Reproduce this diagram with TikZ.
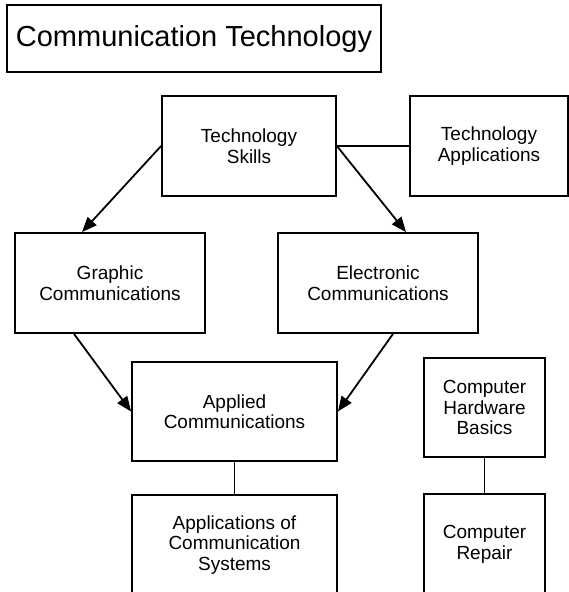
\documentclass[tikz,border=0pt]{standalone}
\usepackage{fontspec}
\setmainfont{Liberation Sans}
\usetikzlibrary{arrows.meta}

\begin{document}
\begin{tikzpicture}[x=1pt,y=-1pt,-,>={Triangle[length=15pt,width=12pt]},line width=1.8pt,
    box node/.style={draw,rectangle,inner sep=0pt,align=center,font=\fontsize{19}{20.5}\selectfont},
    title node/.style={draw,rectangle,inner sep=0pt,font=\fontsize{29}{32}\selectfont}]
            \useasboundingbox (0,0) rectangle (569,592);

            \node[title node] (0) [minimum width=374pt, minimum height=67pt] at (194,38.5) {Communication Technology};

            \node[box node] (1) [minimum width=174pt, minimum height=100pt] at (249,146) {Technology\\Skills};
            \node[box node] (2) [minimum width=158pt, minimum height=100pt] at (489,146) {Technology\\Applications};

            \node[box node] (3) [minimum width=190pt, minimum height=100pt] at (110,283) {Graphic\\Communications};
            \node[box node] (4) [minimum width=200pt, minimum height=100pt] at (378,283) {Electronic\\Communications};

            \node[box node] (5) [minimum width=205pt, minimum height=99pt] at (234.5,411.5) {Applied\\Communications};
            \node[box node] (6) [minimum width=121pt, minimum height=99pt] at (484.5,407.5) {Computer\\Hardware\\Basics};

            \node[box node] (7) [minimum width=205pt, minimum height=100pt] at (234.5,545) {Applications of\\Communication\\Systems};
            \node[box node] (8) [minimum width=121pt, minimum height=101pt] at (484.5,544.5) {Computer\\Repair};

            \path
                (1.west) edge[->] ([xshift=-28pt]3.north)
                (1.east) edge[->] ([xshift=28pt]4.north)
                (1.east) edge (2.west)

                ([xshift=-36pt]3.south) edge[->] (5.west)
                ([xshift=15pt]4.south) edge[->] (5.east)

                (5.south) edge (7.north)
                (6.south) edge (8.north)
            ;
            \end{tikzpicture}
\end{document}
